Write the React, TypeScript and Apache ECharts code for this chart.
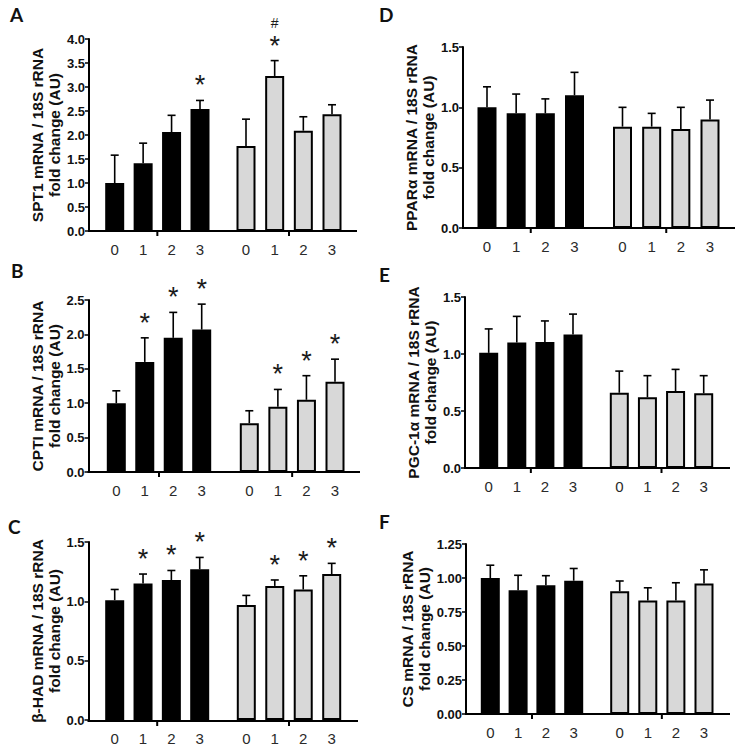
import React, { useEffect, useRef } from "react";
import * as echarts from "echarts";

// ---------- DATA ----------
const timepoints = ["0", "1", "2", "3"];

// A: SPT1
const spt1Ticks = ["0.0", "0.5", "1.0", "1.5", "2.0", "2.5", "3.0", "3.5", "4.0"];
const spt1Black = [1.0, 1.41, 2.06, 2.54];
const spt1BlackSem = [0.58, 0.42, 0.35, 0.18];
const spt1Grey = [1.77, 3.23, 2.09, 2.43];
const spt1GreySem = [0.56, 0.32, 0.29, 0.2];
const spt1BlackSig = ["", "", "", "*"];
const spt1GreySig = ["", "*#", "", ""];

// B: CPTI
const cptTicks = ["0.0", "0.5", "1.0", "1.5", "2.0", "2.5"];
const cptBlack = [1.0, 1.6, 1.95, 2.07];
const cptBlackSem = [0.18, 0.35, 0.37, 0.37];
const cptGrey = [0.71, 0.95, 1.05, 1.31];
const cptGreySem = [0.18, 0.25, 0.35, 0.33];
const cptBlackSig = ["", "*", "*", "*"];
const cptGreySig = ["", "*", "*", "*"];

// C: beta-HAD
const hadTicks = ["0.0", "0.5", "1.0", "1.5"];
const hadBlack = [1.01, 1.15, 1.18, 1.27];
const hadBlackSem = [0.09, 0.08, 0.08, 0.1];
const hadGrey = [0.97, 1.13, 1.1, 1.23];
const hadGreySem = [0.08, 0.05, 0.115, 0.09];
const hadBlackSig = ["", "*", "*", "*"];
const hadGreySig = ["", "*", "*", "*"];

// D: PPARalpha
const pparTicks = ["0.0", "0.5", "1.0", "1.5"];
const pparBlack = [1.0, 0.95, 0.95, 1.1];
const pparBlackSem = [0.17, 0.16, 0.12, 0.19];
const pparGrey = [0.84, 0.84, 0.82, 0.9];
const pparGreySem = [0.16, 0.11, 0.18, 0.16];
const pparBlackSig = ["", "", "", ""];
const pparGreySig = ["", "", "", ""];

// E: PGC-1alpha
const pgcTicks = ["0.0", "0.5", "1.0", "1.5"];
const pgcBlack = [1.01, 1.1, 1.105, 1.17];
const pgcBlackSem = [0.21, 0.23, 0.185, 0.18];
const pgcGrey = [0.66, 0.62, 0.675, 0.655];
const pgcGreySem = [0.19, 0.19, 0.19, 0.155];
const pgcBlackSig = ["", "", "", ""];
const pgcGreySig = ["", "", "", ""];

// F: CS
const csTicks = ["0.00", "0.25", "0.50", "0.75", "1.00", "1.25"];
const csBlack = [1.0, 0.91, 0.947, 0.98];
const csBlackSem = [0.094, 0.11, 0.07, 0.09];
const csGrey = [0.903, 0.835, 0.835, 0.96];
const csGreySem = [0.075, 0.093, 0.13, 0.1];
const csBlackSig = ["", "", "", ""];
const csGreySig = ["", "", "", ""];

// ---------- LAYOUT / STYLE ----------
type Geo = {
  axisX: number; yTop: number; yBot: number;
  b0: number; b3: number; g0: number; g3: number; end: number;
  lx: number; ly: number; nameGap: number;
};

const panels = [
  {
    letter: "A", title: "SPT1 mRNA / 18S rRNA\nfold change (AU)", ticks: spt1Ticks,
    black: spt1Black, blackSem: spt1BlackSem, grey: spt1Grey, greySem: spt1GreySem,
    blackSig: spt1BlackSig, greySig: spt1GreySig,
    geo: { axisX: 89, yTop: 39, yBot: 231, b0: 114.7, b3: 200, g0: 246, g3: 332, end: 357, lx: 10, ly: 14.5, nameGap: 25 } as Geo,
  },
  {
    letter: "B", title: "CPTI mRNA / 18S rRNA\nfold change (AU)", ticks: cptTicks,
    black: cptBlack, blackSem: cptBlackSem, grey: cptGrey, greySem: cptGreySem,
    blackSig: cptBlackSig, greySig: cptGreySig,
    geo: { axisX: 88.5, yTop: 300, yBot: 472, b0: 116.3, b3: 201.7, g0: 249.3, g3: 335, end: 360, lx: 11, ly: 270, nameGap: 25 } as Geo,
  },
  {
    letter: "C", title: "β-HAD mRNA / 18S rRNA\nfold change (AU)", ticks: hadTicks,
    black: hadBlack, blackSem: hadBlackSem, grey: hadGrey, greySem: hadGreySem,
    blackSig: hadBlackSig, greySig: hadGreySig,
    geo: { axisX: 88.5, yTop: 542, yBot: 721, b0: 114.7, b3: 199.7, g0: 246.3, g3: 331.7, end: 358, lx: 8, ly: 526.7, nameGap: 25 } as Geo,
  },
  {
    letter: "D", title: "PPARα mRNA / 18S rRNA\nfold change (AU)", ticks: pparTicks,
    black: pparBlack, blackSem: pparBlackSem, grey: pparGrey, greySem: pparGreySem,
    blackSig: pparBlackSig, greySig: pparGreySig,
    geo: { axisX: 463, yTop: 47, yBot: 228, b0: 487, b3: 574.5, g0: 622.5, g3: 710, end: 735, lx: 379, ly: 14.5, nameGap: 23 } as Geo,
  },
  {
    letter: "E", title: "PGC-1α mRNA / 18S rRNA\nfold change (AU)", ticks: pgcTicks,
    black: pgcBlack, blackSem: pgcBlackSem, grey: pgcGrey, greySem: pgcGreySem,
    blackSig: pgcBlackSig, greySig: pgcGreySig,
    geo: { axisX: 465, yTop: 297, yBot: 468, b0: 488.7, b3: 573, g0: 619.3, g3: 703.7, end: 730, lx: 379, ly: 274.5, nameGap: 25 } as Geo,
  },
  {
    letter: "F", title: "CS mRNA / 18S rRNA\nfold change (AU)", ticks: csTicks,
    black: csBlack, blackSem: csBlackSem, grey: csGrey, greySem: csGreySem,
    blackSig: csBlackSig, greySig: csGreySig,
    geo: { axisX: 466, yTop: 544, yBot: 714, b0: 490.3, b3: 573.7, g0: 619.7, g3: 704, end: 730, lx: 379, ly: 521, nameGap: 25 } as Geo,
  },
];

const FONT = "'Liberation Sans', Arial, sans-serif";
const BLACK_FILL = "#000000";
const GREY_FILL = "#d8d8d8";

function buildOption() {
  const grid: any[] = [];
  const xAxis: any[] = [];
  const yAxis: any[] = [];
  const series: any[] = [];
  const graphic: any[] = [];

  panels.forEach((p) => {
    const g = p.geo;
    const tickNums = p.ticks.map((t) => parseFloat(t));
    const yMin = tickNums[0];
    const yMax = tickNums[tickNums.length - 1];
    const interval = tickNums[1] - tickNums[0];

    const groups = [
      { c0: g.b0, c3: g.b3, vals: p.black, sem: p.blackSem, sig: p.blackSig, fill: BLACK_FILL },
      { c0: g.g0, c3: g.g3, vals: p.grey, sem: p.greySem, sig: p.greySig, fill: GREY_FILL },
    ];

    groups.forEach((grp, gi) => {
      const step = (grp.c3 - grp.c0) / 3;
      const left = grp.c0 - step / 2;
      const width = step * 4;
      const idx = grid.length;
      grid.push({ left, top: g.yTop, width, height: g.yBot - g.yTop, containLabel: false });
      xAxis.push({
        type: "category",
        gridIndex: idx,
        data: timepoints,
        axisLine: { show: false },
        axisTick: { show: false },
        axisLabel: { color: "#2a2a2a", fontSize: 15, fontFamily: FONT, margin: 11 },
        splitLine: { show: false },
      });
      const first = gi === 0;
      yAxis.push({
        type: "value",
        gridIndex: idx,
        min: yMin,
        max: yMax,
        interval,
        show: first,
        offset: first ? left - g.axisX : 0,
        name: first ? p.title : "",
        nameLocation: "middle",
        nameRotate: 90,
        nameGap: g.nameGap,
        nameTextStyle: { fontFamily: FONT, fontWeight: "bold", fontSize: 15.5, lineHeight: 17, color: "#111" },
        axisLine: { show: true, lineStyle: { color: "#000", width: 2 } },
        axisTick: { show: true, length: 4, lineStyle: { color: "#000", width: 1.5 } },
        axisLabel: {
          fontFamily: FONT, fontWeight: "bold", fontSize: 13, color: "#111", margin: 4,
          formatter: (v: number) => {
            const i = tickNums.findIndex((t) => Math.abs(t - v) < 1e-9);
            return i >= 0 ? p.ticks[i] : "";
          },
        },
        splitLine: { show: false },
      });

      series.push({
        type: "bar",
        xAxisIndex: idx,
        yAxisIndex: idx,
        data: grp.vals,
        barWidth: 19,
        itemStyle: { color: grp.fill, borderColor: "#000", borderWidth: 2 },
        z: 2,
      });

      const sigs = grp.sig;
      series.push({
        type: "custom",
        xAxisIndex: idx,
        yAxisIndex: idx,
        z: 3,
        encode: { x: 0, y: 1 },
        data: grp.vals.map((v, i) => [i, v, grp.sem[i]]),
        renderItem: (params: any, api: any) => {
          const i = api.value(0);
          const m = api.value(1);
          const e = api.value(2);
          const base = api.coord([i, m]);
          const top = api.coord([i, m + e]);
          const cap = 4;
          const children: any[] = [
            { type: "line", shape: { x1: base[0], y1: base[1], x2: top[0], y2: top[1] }, style: { stroke: "#000", lineWidth: 1.6 } },
            { type: "line", shape: { x1: top[0] - cap, y1: top[1], x2: top[0] + cap, y2: top[1] }, style: { stroke: "#000", lineWidth: 1.6 } },
          ];
          const mark = sigs[params.dataIndex] || "";
          if (mark.indexOf("*") >= 0) {
            children.push({
              type: "text", x: top[0], y: top[1] - 15,
              style: { text: "*", fontSize: 27, fontFamily: FONT, fill: "#1a1a1a", align: "center", verticalAlign: "middle" },
            });
          }
          if (mark.indexOf("#") >= 0) {
            children.push({
              type: "text", x: top[0], y: top[1] - 38,
              style: { text: "#", fontSize: 14, fontFamily: FONT, fill: "#1a1a1a", align: "center", verticalAlign: "middle" },
            });
          }
          return { type: "group", children };
        },
      });
    });

    // x baseline and group-centre ticks
    graphic.push({
      type: "line",
      shape: { x1: g.axisX - 1, y1: g.yBot, x2: g.end, y2: g.yBot },
      style: { stroke: "#000", lineWidth: 2 },
      z: 10,
    });
    [(g.b0 + g.b3) / 2, (g.g0 + g.g3) / 2].forEach((cx) => {
      graphic.push({
        type: "line",
        shape: { x1: cx, y1: g.yBot, x2: cx, y2: g.yBot + 5 },
        style: { stroke: "#000", lineWidth: 2 },
        z: 10,
      });
    });
    graphic.push({
      type: "text",
      x: g.lx,
      y: g.ly,
      style: { text: p.letter, fontFamily: "Lato, 'Open Sans', sans-serif", fontWeight: "bold", fontSize: 19, fill: "#111", align: "left", verticalAlign: "middle" },
      z: 10,
    });
  });

  return { animation: false, backgroundColor: "#ffffff", grid, xAxis, yAxis, series, graphic };
}

export default function App() {
  const ref = useRef<HTMLDivElement>(null);
  useEffect(() => {
    document.body.style.margin = "0";
    if (!ref.current) return;
    const chart = echarts.init(ref.current, undefined, { renderer: "svg" });
    chart.setOption(buildOption() as any);
    return () => chart.dispose();
  }, []);
  return <div ref={ref} style={{ width: 745, height: 746 }} />;
}
